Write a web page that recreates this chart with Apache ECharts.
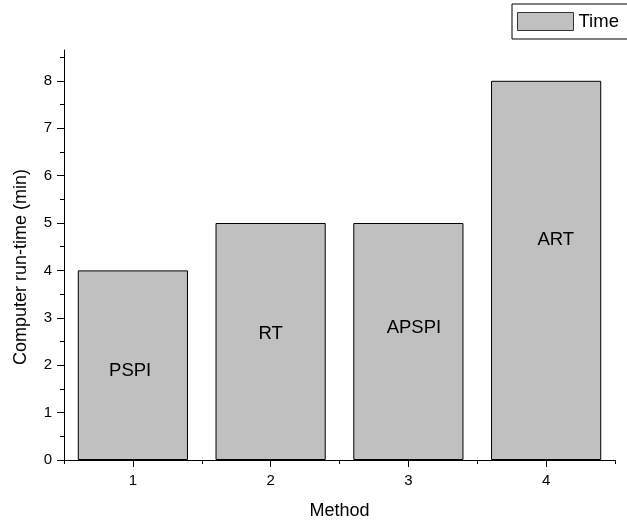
<!DOCTYPE html>
<html>
<head>
<meta charset="utf-8">
<script src="https://cdn.jsdelivr.net/npm/echarts@6/dist/echarts.min.js"></script>
<style>html,body{margin:0;padding:0;background:#fff}#c{width:627px;height:525px}</style>
</head>
<body>
<div id="c"></div>
<script>
var categories = ['1', '2', '3', '4'];
var timeValues = [4, 5, 5, 8];
var yTicks = [0, 1, 2, 3, 4, 5, 6, 7, 8];
var yMinorTicks = [0.5, 1.5, 2.5, 3.5, 4.5, 5.5, 6.5, 7.5, 8.5];
var methodNames = ['PSPI', 'RT', 'APSPI', 'ART'];
var labelX = [0.98, 2.0, 3.04, 4.07];
var labelY = [1.87, 2.66, 2.78, 4.64];

var FONT = "'Liberation Sans', Arial, sans-serif";
var chart = echarts.init(document.getElementById('c'));
var yMax = 8.65;
var labelData = methodNames.map(function (n, i) { return { name: n, value: [labelX[i], labelY[i]] }; });

chart.setOption({
  animation: false,
  backgroundColor: '#fff',
  grid: { left: 64, right: 12, top: 50, bottom: 64 },
  legend: {
    data: ['Time'],
    left: 512, top: 4,
    padding: [8, 14, 8, 5],
    itemWidth: 56, itemHeight: 18,
    borderColor: '#000', borderWidth: 1,
    borderRadius: 0,
    icon: 'rect',
    itemStyle: { borderColor: '#333', borderWidth: 1 },
    textStyle: { fontFamily: FONT, fontSize: 18.5, color: '#000' }
  },
  xAxis: [
    {
      type: 'category', data: categories, position: 'bottom',
      boundaryGap: true,
      axisLine: { show: true, lineStyle: { color: '#000', width: 1 } },
      axisTick: { show: true, alignWithLabel: true, length: 7, lineStyle: { color: '#000' } },
      axisLabel: { fontFamily: FONT, fontSize: 15, color: '#000', margin: 13 },
      name: 'Method', nameLocation: 'middle', nameGap: 42,
      nameTextStyle: { fontFamily: FONT, fontSize: 18, color: '#000' },
      splitLine: { show: false }
    },
    {
      type: 'category', data: categories, position: 'bottom',
      boundaryGap: true,
      axisLine: { show: false },
      axisTick: { show: true, alignWithLabel: false, length: 4, lineStyle: { color: '#000' } },
      axisLabel: { show: false },
      splitLine: { show: false }
    },
    {
      type: 'value', min: 0.5, max: 4.5, show: false
    }
  ],
  yAxis: [
    {
      type: 'value', min: 0, max: yMax,
      axisLine: { show: true, lineStyle: { color: '#000', width: 1 } },
      axisTick: { show: true, length: 7, customValues: yTicks, lineStyle: { color: '#000' } },
      axisLabel: { fontFamily: FONT, fontSize: 15, color: '#000', margin: 12, customValues: yTicks },
      splitLine: { show: false }
    },
    {
      type: 'value', min: 0, max: yMax, position: 'left',
      axisLine: { show: false },
      axisTick: { show: true, length: 4, customValues: yMinorTicks, lineStyle: { color: '#000' } },
      axisLabel: { show: false, customValues: [] },
      splitLine: { show: false }
    }
  ],
  graphic: [{
    type: 'text',
    x: 21, y: 267,
    rotation: Math.PI / 2,
    style: {
      text: 'Computer run-time (min)',
      fontFamily: FONT, fontSize: 18, fill: '#000',
      align: 'center', verticalAlign: 'middle'
    }
  }],
  series: [
    {
      name: 'Time', type: 'bar', data: timeValues,
      xAxisIndex: 0, yAxisIndex: 0,
      barWidth: '80%',
      itemStyle: { color: '#c0c0c0', borderColor: '#000', borderWidth: 1 }
    },
    {
      name: 'labels', type: 'scatter', data: labelData,
      xAxisIndex: 2, yAxisIndex: 0,
      symbolSize: 1,
      itemStyle: { color: '#c0c0c0', opacity: 1 },
      label: {
        show: true, position: 'inside',
        formatter: function (p) { return p.name; },
        fontFamily: FONT, fontSize: 18.5, color: '#000',
        textBorderWidth: 0, opacity: 1
      },
      silent: true
    }
  ]
});
</script>
</body>
</html>
